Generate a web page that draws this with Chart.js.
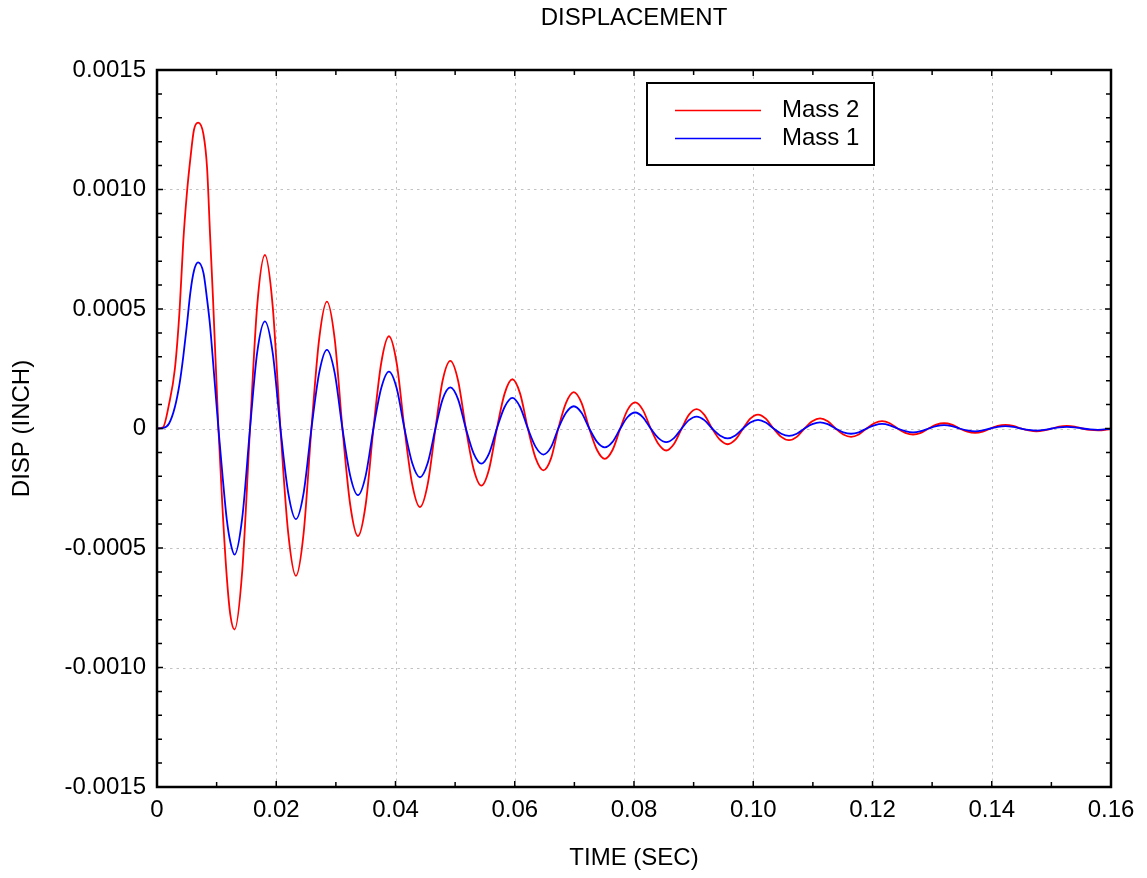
<!DOCTYPE html>
<html>
<head>
<meta charset="utf-8">
<script src="https://cdn.jsdelivr.net/npm/chart.js@4.4.1/dist/chart.umd.min.js"></script>
<style>
html,body{margin:0;padding:0;background:#ffffff;}
#wrap{width:1147px;height:878px;position:relative;}
</style>
</head>
<body>
<div id="wrap"><canvas id="c" width="1147" height="878"></canvas></div>
<script>
// ---------- data ----------
const chartTitle = 'DISPLACEMENT';
const xAxisTitle = 'TIME (SEC)';
const yAxisTitle = 'DISP (INCH)';
const seriesNames = ['Mass 2', 'Mass 1'];
const seriesColors = ['#ff0000', '#0000ff'];

const timeSec = [
  0, 0.0010, 0.0020, 0.0030, 0.0038, 0.0044, 0.0050, 0.0056, 0.0062, 0.0069,
  0.0078, 0.0084, 0.0089, 0.0094, 0.0103, 0.0110, 0.0117, 0.0123, 0.0130,
  0.0143, 0.0156, 0.0168, 0.0181,
  0.0194, 0.0207, 0.0220, 0.0233,
  0.0246, 0.0259, 0.0272, 0.0285,
  0.0298, 0.0311, 0.0324, 0.0337,
  0.0350, 0.0363, 0.0376, 0.0389,
  0.0402, 0.0415, 0.0428, 0.0441,
  0.0454, 0.0467, 0.0479, 0.0492,
  0.0505, 0.0518, 0.0531, 0.0544,
  0.0557, 0.0570, 0.0583, 0.0596,
  0.0609, 0.0622, 0.0635, 0.0648,
  0.0661, 0.0673, 0.0686, 0.0699,
  0.0712, 0.0725, 0.0738, 0.0751,
  0.0764, 0.0777, 0.0789, 0.0802,
  0.0815, 0.0828, 0.0841, 0.0854,
  0.0867, 0.0880, 0.0892, 0.0905,
  0.0918, 0.0931, 0.0944, 0.0957,
  0.0970, 0.0983, 0.0995, 0.1008,
  0.1021, 0.1034, 0.1047, 0.1060,
  0.1073, 0.1086, 0.1099, 0.1112,
  0.1125, 0.1138, 0.1151, 0.1164,
  0.1177, 0.1190, 0.1203, 0.1216,
  0.1229, 0.1242, 0.1255, 0.1268,
  0.1281, 0.1294, 0.1307, 0.1320,
  0.1333, 0.1346, 0.1359, 0.1372,
  0.1385, 0.1398, 0.1410, 0.1423,
  0.1436, 0.1449, 0.1462, 0.1475,
  0.1488, 0.1501, 0.1513, 0.1526,
  0.1539, 0.1552, 0.1565, 0.1578,
  0.1600
];

const mass2Disp = [
  0, 0.000005, 0.00010, 0.00025, 0.00050, 0.00078, 0.00098, 0.00113, 0.00125, 0.00128,
  0.00123, 0.00109, 0.00081, 0.00054, 0, -0.00034, -0.00062, -0.00078, -0.000841,
  -0.000595, 0, 0.000513, 0.000726,
  0.000513, 0, -0.000436, -0.000617,
  -0.000436, 0, 0.000375, 0.000531,
  0.000375, 0, -0.000318, -0.000450,
  -0.000318, 0, 0.000273, 0.000386,
  0.000273, 0, -0.000233, -0.000329,
  -0.000233, 0, 0.000200, 0.000283,
  0.000200, 0, -0.000169, -0.000239,
  -0.000169, 0, 0.000146, 0.000206,
  0.000146, 0, -0.000124, -0.000175,
  -0.000124, 0, 0.000107, 0.000152,
  0.000107, 0, -0.000090, -0.000127,
  -0.000090, 0, 0.000077, 0.000109,
  0.000077, 0, -0.000065, -0.000092,
  -0.000065, 0, 0.000057, 0.000081,
  0.000057, 0, -0.000047, -0.000066,
  -0.000047, 0, 0.000041, 0.000058,
  0.000041, 0, -0.000035, -0.000049,
  -0.000035, 0, 0.000030, 0.000042,
  0.000030, 0, -0.000025, -0.000035,
  -0.000025, 0, 0.000022, 0.000031,
  0.000022, 0, -0.000018, -0.000025,
  -0.000018, 0, 0.000016, 0.000022,
  0.000016, 0, -0.000013, -0.000018,
  -0.000013, 0, 0.000011, 0.000015,
  0.000011, 0, -0.000008, -0.000012,
  -0.000008, 0, 0.000008, 0.000011,
  0.000008, 0, -0.000006, -0.000008,
  -0.000002
];

const mass1Disp = [
  0, 0.000002, 0.00002, 0.00009, 0.00019, 0.00030, 0.00043, 0.00057, 0.00066, 0.000695,
  0.00065, 0.00054, 0.00043, 0.00028, 0, -0.00020, -0.00038, -0.000475, -0.000528,
  -0.000373, 0, 0.000317, 0.000448,
  0.000317, 0, -0.000268, -0.000379,
  -0.000268, 0, 0.000233, 0.000329,
  0.000233, 0, -0.000197, -0.000279,
  -0.000197, 0, 0.000168, 0.000238,
  0.000168, 0, -0.000144, -0.000204,
  -0.000144, 0, 0.000122, 0.000172,
  0.000122, 0, -0.000104, -0.000147,
  -0.000104, 0, 0.000090, 0.000128,
  0.000090, 0, -0.000077, -0.000109,
  -0.000077, 0, 0.000066, 0.000093,
  0.000066, 0, -0.000056, -0.000079,
  -0.000056, 0, 0.000047, 0.000067,
  0.000047, 0, -0.000040, -0.000057,
  -0.000040, 0, 0.000035, 0.000050,
  0.000035, 0, -0.000029, -0.000041,
  -0.000029, 0, 0.000025, 0.000036,
  0.000025, 0, -0.000022, -0.000031,
  -0.000022, 0, 0.000018, 0.000026,
  0.000018, 0, -0.000016, -0.000022,
  -0.000016, 0, 0.000013, 0.000019,
  0.000013, 0, -0.000011, -0.000016,
  -0.000011, 0, 0.000010, 0.000014,
  0.000010, 0, -0.000008, -0.000012,
  -0.000008, 0, 0.000007, 0.000010,
  0.000007, 0, -0.000006, -0.000009,
  -0.000006, 0, 0.000005, 0.000007,
  0.000005, 0, -0.000004, -0.000006,
  -0.000001
];

const xTickValues = [0, 0.02, 0.04, 0.06, 0.08, 0.10, 0.12, 0.14, 0.16];
const xTickLabels = ['0', '0.02', '0.04', '0.06', '0.08', '0.10', '0.12', '0.14', '0.16'];
const yTickValues = [-0.0015, -0.0010, -0.0005, 0, 0.0005, 0.0010, 0.0015];
const yTickLabels = ['-0.0015', '-0.0010', '-0.0005', '0', '0.0005', '0.0010', '0.0015'];
const xMinorStep = 0.01;
const yMinorStep = 0.0001;

// ---------- styling ----------
const FAMILY = '"Liberation Sans", Arial, Helvetica, sans-serif';
const FONT_PX = 24;
const FONT = FONT_PX + 'px ' + FAMILY;

function labelFor(values, labels, v) {
  const i = values.findIndex(t => Math.abs(t - v) < 1e-9);
  return i >= 0 ? labels[i] : '';
}

const decor = {
  id: 'decor',
  beforeDatasetsDraw(chart) {
    const {ctx, chartArea: a, scales} = chart;
    const xs = scales.x, ys = scales.y;
    ctx.save();
    ctx.strokeStyle = '#c2c2c2';
    ctx.lineWidth = 1;
    ctx.setLineDash([2.5, 4]);
    xTickValues.forEach(v => {
      const px = Math.round(xs.getPixelForValue(v)) + 0.5;
      if (px <= a.left + 2 || px >= a.right - 2) return;
      ctx.beginPath(); ctx.moveTo(px, a.top); ctx.lineTo(px, a.bottom); ctx.stroke();
    });
    yTickValues.forEach(v => {
      const py = Math.round(ys.getPixelForValue(v)) + 0.5;
      if (py <= a.top + 2 || py >= a.bottom - 2) return;
      ctx.beginPath(); ctx.moveTo(a.left, py); ctx.lineTo(a.right, py); ctx.stroke();
    });
    ctx.restore();
  },
  afterDatasetsDraw(chart) {
    const {ctx, chartArea: a, scales} = chart;
    const xs = scales.x, ys = scales.y;
    ctx.save();
    ctx.setLineDash([]);
    ctx.strokeStyle = '#000';
    ctx.lineWidth = 1.5;
    const isMajor = (vals, v) => vals.some(t => Math.abs(t - v) < 1e-9);
    // x ticks (bottom + top), inward
    const nx = Math.round((xs.max - xs.min) / xMinorStep);
    for (let i = 0; i <= nx; i++) {
      const v = xs.min + i * xMinorStep;
      const len = isMajor(xTickValues, v) ? 6 : 5;
      const px = xs.getPixelForValue(v);
      ctx.beginPath();
      ctx.moveTo(px, a.bottom); ctx.lineTo(px, a.bottom - len);
      ctx.moveTo(px, a.top); ctx.lineTo(px, a.top + len);
      ctx.stroke();
    }
    const ny = Math.round((ys.max - ys.min) / yMinorStep);
    for (let i = 0; i <= ny; i++) {
      const v = ys.min + i * yMinorStep;
      const len = isMajor(yTickValues, v) ? 6 : 5;
      const py = ys.getPixelForValue(v);
      ctx.beginPath();
      ctx.moveTo(a.left, py); ctx.lineTo(a.left + len, py);
      ctx.moveTo(a.right, py); ctx.lineTo(a.right - len, py);
      ctx.stroke();
    }
    // frame
    ctx.lineWidth = 2.5;
    ctx.strokeRect(a.left, a.top, a.right - a.left, a.bottom - a.top);

    // legend (inside plot, upper right)
    const lx = 647, ly = 83, lw = 227, lh = 82;
    ctx.fillStyle = '#fff';
    ctx.fillRect(lx, ly, lw, lh);
    ctx.lineWidth = 2;
    ctx.strokeStyle = '#000';
    ctx.strokeRect(lx, ly, lw, lh);
    ctx.font = FONT;
    ctx.textAlign = 'left';
    ctx.textBaseline = 'middle';
    const rows = [110.5, 138.5];
    chart.data.datasets.forEach((ds, i) => {
      const y = rows[i];
      ctx.strokeStyle = ds.borderColor;
      ctx.lineWidth = 1.5;
      ctx.beginPath(); ctx.moveTo(675, y); ctx.lineTo(761, y); ctx.stroke();
      ctx.fillStyle = '#000';
      ctx.fillText(ds.label, 782, y);
    });
    ctx.restore();
  },
  afterDraw(chart) {
    const {ctx, chartArea: a} = chart;
    ctx.save();
    ctx.fillStyle = '#000';
    ctx.font = FONT;
    ctx.textAlign = 'center';
    ctx.textBaseline = 'middle';
    const cx = (a.left + a.right) / 2;
    ctx.fillText(chartTitle, cx, 18);
    ctx.fillText(xAxisTitle, cx, 858);
    ctx.translate(22, (a.top + a.bottom) / 2);
    ctx.rotate(-Math.PI / 2);
    ctx.fillText(yAxisTitle, 0, 0);
    ctx.restore();
  }
};

new Chart(document.getElementById('c'), {
  type: 'line',
  data: {
    datasets: [
      {
        label: seriesNames[0],
        data: timeSec.map((t, i) => ({x: t, y: mass2Disp[i]})),
        borderColor: seriesColors[0],
        borderWidth: 1.8,
        pointRadius: 0,
        fill: false,
        cubicInterpolationMode: 'monotone',
        order: 2
      },
      {
        label: seriesNames[1],
        data: timeSec.map((t, i) => ({x: t, y: mass1Disp[i]})),
        borderColor: seriesColors[1],
        borderWidth: 1.8,
        pointRadius: 0,
        fill: false,
        cubicInterpolationMode: 'monotone',
        order: 1
      }
    ]
  },
  options: {
    responsive: false,
    animation: false,
    devicePixelRatio: 1,
    events: [],
    layout: {padding: {top: 70, right: 36, bottom: 0, left: 0}},
    plugins: {legend: {display: false}, title: {display: false}, tooltip: {enabled: false}},
    scales: {
      x: {
        type: 'linear',
        min: 0, max: 0.16,
        grid: {display: false, drawTicks: false},
        border: {display: false},
        ticks: {
          autoSkip: false, maxRotation: 0, minRotation: 0, padding: 9, color: '#000',
          font: {family: FAMILY, size: FONT_PX},
          callback: v => labelFor(xTickValues, xTickLabels, v)
        },
        afterBuildTicks: s => { s.ticks = xTickValues.map(v => ({value: v})); },
        afterFit: s => { s.height = 91; s.paddingLeft = 0; s.paddingRight = 0; }
      },
      y: {
        type: 'linear',
        min: -0.0015, max: 0.0015,
        grid: {display: false, drawTicks: false},
        border: {display: false},
        ticks: {
          autoSkip: false, padding: 11, color: '#000',
          font: {family: FAMILY, size: FONT_PX},
          callback: v => labelFor(yTickValues, yTickLabels, v)
        },
        afterBuildTicks: s => { s.ticks = yTickValues.map(v => ({value: v})); },
        afterFit: s => { s.width = 157; s.paddingTop = 0; s.paddingBottom = 0; }
      }
    }
  },
  plugins: [decor]
});
</script>
</body>
</html>
